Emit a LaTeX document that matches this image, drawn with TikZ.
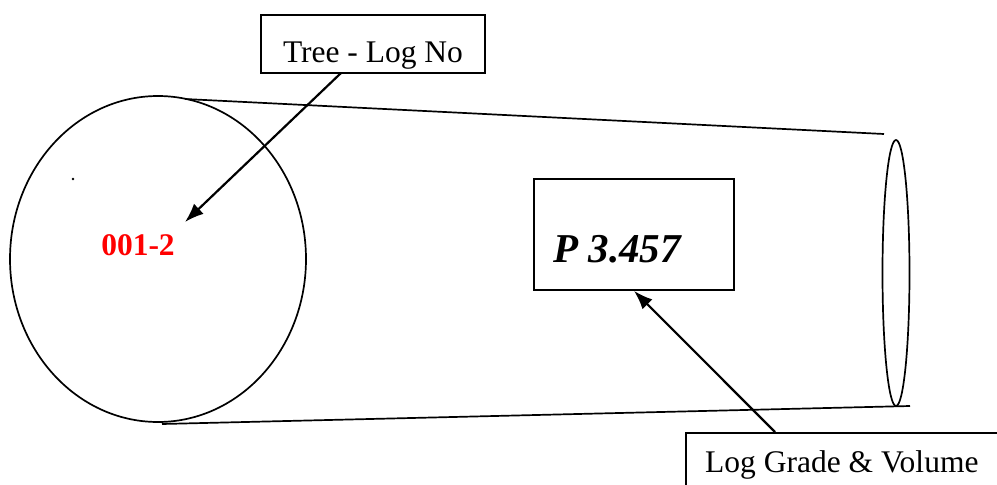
\documentclass[tikz,border=0pt]{standalone}
\usepackage{fontspec}
\setmainfont{Liberation Serif}
\usetikzlibrary{arrows.meta}
\begin{document}
\begin{tikzpicture}[x=1pt,y=-1pt,
  outline/.style={line width=1.7pt},
  boxstyle/.style={draw,line width=1.7pt,inner sep=0pt},
  arr/.style={line width=2.2pt,-{Latex[length=19pt,width=14pt]}},
  lbl/.style={font=\fontsize{31.5}{36}\selectfont,inner sep=0pt}]
\useasboundingbox (0,0) rectangle (997,485);
\clip (0,0) rectangle (997,485);
% log body
\draw[outline] (158,259) ellipse [x radius=148, y radius=163];
\draw[outline] (896,273) ellipse [x radius=13.5, y radius=133];
\coordinate (tl) at (185,99);
\coordinate (tr) at (884,134);
\coordinate (bl) at (162,424);
\coordinate (br) at (910,406);
\draw[outline] (tl) -- (tr);
\draw[outline] (bl) -- (br);
\fill (73,179) circle (1.3);
% labels
\node[boxstyle,minimum width=224,minimum height=58] (tree) at (373,44) {};
\node[lbl,anchor=base] (treetxt) at (373,62) {Tree - Log No};
\node[lbl,anchor=base,text=red,font=\fontsize{31.5}{36}\selectfont\bfseries] (logno) at (138,255) {001-2};
\node[boxstyle,minimum width=200,minimum height=111] (pbox) at (634,234.5) {};
\node[lbl,anchor=base west,font=\fontsize{41}{46}\selectfont\bfseries\itshape] (ptxt) at (553,262) {P 3.457};
\node[boxstyle,minimum width=340,minimum height=100,anchor=north west] (lg) at (685,432) {};
\node[lbl,anchor=base west] (lgtxt) at (705,472) {Log Grade \& Volume};
% arrows
\coordinate (treestart) at (341,73);
\coordinate (treetip) at (185,222);
\coordinate (lgstart) at (775,432);
\draw[arr] (treestart) -- (treetip);
\draw[arr] (lgstart) -- (pbox.south);
\end{tikzpicture}
\end{document}
